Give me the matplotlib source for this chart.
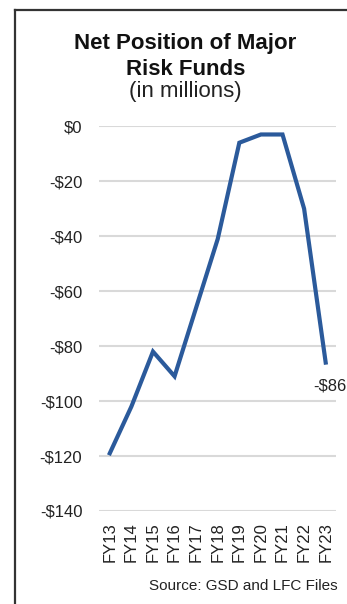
import matplotlib
matplotlib.use("Agg")
import matplotlib.pyplot as plt
from matplotlib.lines import Line2D

plt.rcParams['font.family'] = ['Liberation Sans', 'DejaVu Sans']

# fiscal years and net position of major risk funds ($ millions)
years = ['FY13', 'FY14', 'FY15', 'FY16', 'FY17', 'FY18',
         'FY19', 'FY20', 'FY21', 'FY22', 'FY23']
net_position = [-119, -102, -82, -91, -66, -41, -6, -3, -3, -30, -86]
y_ticks = [0, -20, -40, -60, -80, -100, -120, -140]
y_labels = ['$0', '-$20', '-$40', '-$60', '-$80', '-$100', '-$120', '-$140']

fig = plt.figure(figsize=(3.47, 6.04), dpi=100)
ax = fig.add_axes([0.2853, 0.154, 0.6844, 0.637])

x = list(range(len(years)))
ax.plot(x, net_position, color='#2B5A9B', linewidth=3.0,
        solid_joinstyle='miter', zorder=3)

ax.set_xlim(-0.5, 10.5)
ax.set_ylim(-140, 0)
ax.set_yticks(y_ticks)
ax.set_yticklabels(y_labels)
ax.set_xticks(x)
ax.set_xticklabels(years, rotation=90)
ax.tick_params(axis='y', length=0, pad=12, labelsize=12, labelcolor='#222222')
ax.tick_params(axis='x', length=0, pad=8, labelsize=12, labelcolor='#222222')
ax.grid(axis='y', color='#D9D9D9', linewidth=1.5)
ax.set_axisbelow(True)
for s in ax.spines.values():
    s.set_visible(False)

# label for the last year
ax.annotate('-$86', xy=(x[-1], net_position[-1]), xytext=(-9, -17),
            textcoords='offset points', ha='left', va='center',
            fontsize=12, color='#222222', annotation_clip=False)

# title block
fig.text(0.533, 1 - 49 / 604, 'Net Position of Major', ha='center',
         va='baseline', fontsize=16, fontweight='bold', color='#111111')
fig.text(0.535, 1 - 75 / 604, 'Risk Funds', ha='center',
         va='baseline', fontsize=16, fontweight='bold', color='#111111')
fig.text(0.533, 1 - 97 / 604, '(in millions)', ha='center',
         va='baseline', fontsize=16, color='#222222')

fig.text(338 / 347, 1 - 590 / 604, 'Source: GSD and LFC Files', ha='right',
         va='baseline', fontsize=11, color='#222222')

# frame on the left and top edges
fig.add_artist(Line2D([15 / 347, 15 / 347], [0, 1 - 10 / 604],
                      transform=fig.transFigure, color='#333333', linewidth=1.6))
fig.add_artist(Line2D([15 / 347, 1], [1 - 10 / 604, 1 - 10 / 604],
                      transform=fig.transFigure, color='#333333', linewidth=1.6))

fig.savefig('out.png', dpi=100)
